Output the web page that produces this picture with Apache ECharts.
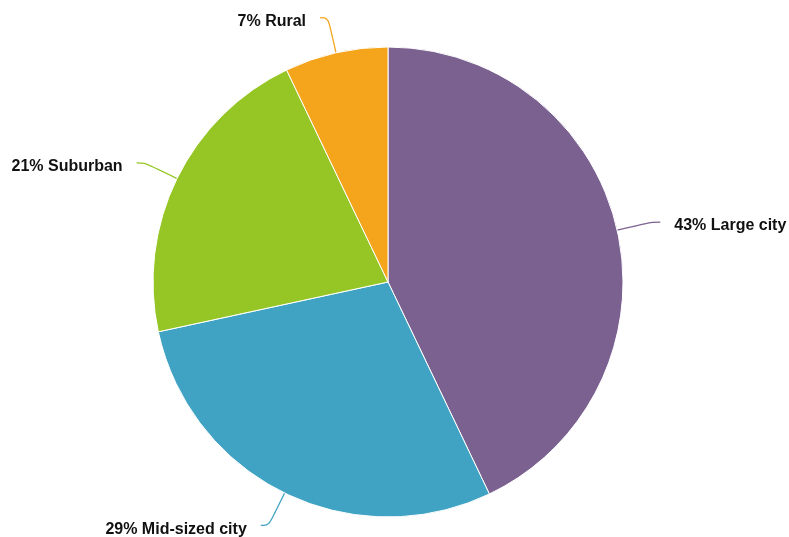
<!DOCTYPE html>
<html><head><meta charset="utf-8">
<script src="https://cdn.jsdelivr.net/npm/echarts@6/dist/echarts.min.js"></script>
<style>html,body{margin:0;padding:0;background:#fff}#c{width:789px;height:537px}</style>
</head><body><div id="c"></div>
<script>
const categories = ['Large city', 'Mid-sized city', 'Suburban', 'Rural'];
const values = [42.9, 28.7, 21.3, 7.1];
const colors = ['#7b6190', '#41a3c3', '#96c626', '#f5a51c'];
const chart = echarts.init(document.getElementById('c'), null, {renderer: 'canvas'});
const font = {color: '#111', fontWeight: 'bold', fontSize: 16, fontFamily: '"Liberation Sans", Arial, sans-serif'};
chart.setOption({
  animation: false,
  series: [{
    type: 'pie',
    center: [388, 282],
    radius: 235,
    startAngle: 90,
    clockwise: true,
    avoidLabelOverlap: false,
    data: categories.map((c, i) => ({name: c, value: values[i], itemStyle: {color: colors[i]}})),
    itemStyle: {borderColor: '#fff', borderWidth: 1},
    label: Object.assign({
      formatter: p => '{t|' + Math.round(p.value) + '% ' + p.name + '}',
      distanceToLabelLine: 14,
      rich: {t: Object.assign({padding: [8, 0, 0, 0]}, font)}
    }, font),
    labelLine: {length: 36, length2: 8, smooth: 0.4, lineStyle: {width: 1.3}}
  }]
});
</script></body></html>
